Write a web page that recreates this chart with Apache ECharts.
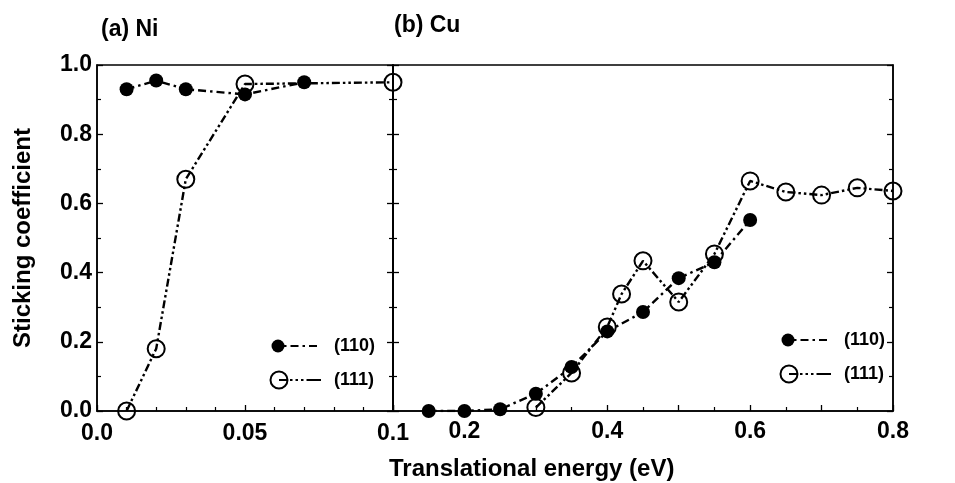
<!DOCTYPE html>
<html>
<head>
<meta charset="utf-8">
<script src="https://cdn.jsdelivr.net/npm/echarts@6/dist/echarts.min.js"></script>
<style>
  html, body { margin: 0; padding: 0; background: #fff; }
  #chart { width: 955px; height: 483px; }
</style>
</head>
<body>
<div id="chart"></div>
<script>
// ---- data ----
var panelTitles = ['(a) Ni', '(b) Cu'];
var seriesNames = ['(110)', '(111)'];
var yTitle = 'Sticking coefficient';
var xTitle = 'Translational energy (eV)';

// (a) Ni
var niX110 = [0.01, 0.02, 0.03, 0.05, 0.07];
var niY110 = [0.93, 0.955, 0.93, 0.915, 0.95];
var niX111 = [0.01, 0.02, 0.03, 0.05, 0.1];
var niY111 = [0.0, 0.18, 0.67, 0.945, 0.95];

// (b) Cu
var cuX110 = [0.15, 0.2, 0.25, 0.3, 0.35, 0.4, 0.45, 0.5, 0.55, 0.6];
var cuY110 = [0.0, 0.0, 0.005, 0.05, 0.127, 0.23, 0.286, 0.384, 0.43, 0.552];
var cuX111 = [0.3, 0.35, 0.4, 0.42, 0.45, 0.5, 0.55, 0.6, 0.65, 0.7, 0.75, 0.8];
var cuY111 = [0.01, 0.11, 0.243, 0.338, 0.434, 0.315, 0.454, 0.665, 0.633, 0.624, 0.645, 0.636];

// tick labels
var niXTickLabels = { '0': '0.0', '0.05': '0.05', '0.1': '0.1' };
var cuXTickLabels = ['0.2', '0.4', '0.6', '0.8'];

function pairs(xs, ys) { return xs.map(function (x, i) { return [x, ys[i]]; }); }

var FONT = 'Liberation Sans, Arial, Helvetica, sans-serif';
var DASH_110 = [8, 4, 2.5, 4];
var DASH_111 = [8, 3, 2.5, 3, 2.5, 3];

var chart = echarts.init(document.getElementById('chart'), null, { renderer: 'canvas' });

var labelStyle = { color: '#000', fontFamily: FONT, fontWeight: 'bold', fontSize: 23 };

function yAxisDef(gridIndex, position, showLabels, extra) {
  var a = {
    type: 'value', gridIndex: gridIndex, position: position,
    min: 0, max: 1.0, interval: 0.2,
    axisLine: { show: true, onZero: false, lineStyle: { color: '#000', width: 1.5 } },
    axisTick: { show: true, inside: true, length: 6, lineStyle: { color: '#000', width: 1.3 } },
    minorTick: { show: true, splitNumber: 2, length: 4, lineStyle: { color: '#000', width: 1.2 } },
    splitLine: { show: false },
    axisLabel: showLabels ? Object.assign({ margin: 5, formatter: function (v) { return v.toFixed(1); } }, labelStyle) : { show: false }
  };
  return Object.assign(a, extra || {});
}

var option = {
  animation: false,
  backgroundColor: '#fff',
  title: [
    { text: panelTitles[0], left: 96, top: 13, textStyle: { color: '#000', fontFamily: FONT, fontWeight: 'bold', fontSize: 23 } },
    { text: panelTitles[1], left: 389, top: 9, textStyle: { color: '#000', fontFamily: FONT, fontWeight: 'bold', fontSize: 23 } }
  ],
  grid: [
    { left: 97, top: 65, width: 296, height: 346, show: true, borderColor: '#000', borderWidth: 1.5, backgroundColor: 'transparent' },
    { left: 393, top: 65, width: 500, height: 346, show: true, borderColor: '#000', borderWidth: 1.5, backgroundColor: 'transparent' }
  ],
  xAxis: [
    {
      type: 'value', gridIndex: 0, min: 0, max: 0.1, interval: 0.05,
      axisLine: { show: true, onZero: false, lineStyle: { color: '#000', width: 1.5 } },
      axisTick: { show: true, inside: true, length: 6, lineStyle: { color: '#000', width: 1.3 } },
      minorTick: { show: true, splitNumber: 5, length: 4, lineStyle: { color: '#000', width: 1.2 } },
      splitLine: { show: false },
      axisLabel: Object.assign({ margin: 11, showMinLabel: true, showMaxLabel: true,
        formatter: function (v) { var k = String(+v.toFixed(3)); return niXTickLabels[k] !== undefined ? niXTickLabels[k] : ''; } }, labelStyle)
    },
    {
      type: 'value', gridIndex: 1, min: 0.1, max: 0.8, interval: 0.1,
      axisLine: { show: true, onZero: false, lineStyle: { color: '#000', width: 1.5 } },
      axisTick: { show: true, inside: true, length: 6, lineStyle: { color: '#000', width: 1.3 } },
      minorTick: { show: true, splitNumber: 2, length: 4, lineStyle: { color: '#000', width: 1.2 } },
      splitLine: { show: false },
      axisLabel: Object.assign({ margin: 9, showMinLabel: true, showMaxLabel: true,
        formatter: function (v) { var s = v.toFixed(1); return cuXTickLabels.indexOf(s) >= 0 ? s : ''; } }, labelStyle)
    }
  ],
  yAxis: [
    yAxisDef(0, 'left', true, {
      name: yTitle, nameLocation: 'middle', nameGap: 62, nameRotate: 90,
      nameTextStyle: { color: '#000', fontFamily: FONT, fontWeight: 'bold', fontSize: 24 }
    }),
    yAxisDef(0, 'right', false),
    yAxisDef(1, 'left', false),
    yAxisDef(1, 'right', false)
  ],
  series: [
    {
      name: seriesNames[0], type: 'line', xAxisIndex: 0, yAxisIndex: 0,
      data: pairs(niX110, niY110),
      symbol: 'circle', symbolSize: 14,
      itemStyle: { color: '#000' },
      lineStyle: { color: '#000', width: 2.4, type: DASH_110 },
      emphasis: { disabled: true }, z: 3
    },
    {
      name: seriesNames[1], type: 'line', xAxisIndex: 0, yAxisIndex: 0,
      data: pairs(niX111, niY111),
      symbol: 'circle', symbolSize: 17,
      itemStyle: { color: 'rgba(0,0,0,0)', borderColor: '#000', borderWidth: 2 },
      lineStyle: { color: '#000', width: 2.4, type: DASH_111 },
      emphasis: { disabled: true }, z: 4
    },
    {
      name: seriesNames[0], type: 'line', xAxisIndex: 1, yAxisIndex: 2,
      data: pairs(cuX110, cuY110),
      symbol: 'circle', symbolSize: 14,
      itemStyle: { color: '#000' },
      lineStyle: { color: '#000', width: 2.4, type: DASH_110 },
      emphasis: { disabled: true }, z: 3
    },
    {
      name: seriesNames[1], type: 'line', xAxisIndex: 1, yAxisIndex: 2,
      data: pairs(cuX111, cuY111),
      symbol: 'circle', symbolSize: 17,
      itemStyle: { color: 'rgba(0,0,0,0)', borderColor: '#000', borderWidth: 2 },
      lineStyle: { color: '#000', width: 2.4, type: DASH_111 },
      emphasis: { disabled: true }, z: 4
    }
  ],
  graphic: []
};

// legends (one inside each panel)
function legendGroup(x, y) {
  return {
    type: 'group', left: x, top: y, children: [
      { type: 'circle', shape: { cx: 8, cy: 8, r: 6.5 }, style: { fill: '#000' } },
      { type: 'line', shape: { x1: 14, y1: 8, x2: 51, y2: 8 }, style: { stroke: '#000', lineWidth: 2.2, lineDash: [2.5, 4, 8, 4] } },
      { type: 'text', x: 64, y: 8, style: { text: seriesNames[0], fill: '#000', font: 'bold 18px ' + FONT, textVerticalAlign: 'middle', verticalAlign: 'middle' } },
      { type: 'circle', shape: { cx: 9, cy: 42, r: 8.5 }, style: { fill: 'none', stroke: '#000', lineWidth: 2 } },
      { type: 'line', shape: { x1: 9, y1: 42, x2: 17, y2: 42 }, style: { stroke: '#000', lineWidth: 2 } },
      { type: 'line', shape: { x1: 20, y1: 42, x2: 51, y2: 42 }, style: { stroke: '#000', lineWidth: 2.2, lineDash: [2.5, 3, 2.5, 3, 2.5, 3, 12, 0] } },
      { type: 'text', x: 64, y: 42, style: { text: seriesNames[1], fill: '#000', font: 'bold 18px ' + FONT, textVerticalAlign: 'middle', verticalAlign: 'middle' } }
    ]
  };
}
option.graphic.push(legendGroup(268, 337));
option.graphic.push(legendGroup(778, 331));
option.graphic.push({
  type: 'text', left: 389, top: 457,
  style: { text: xTitle, fill: '#000', font: 'bold 24px ' + FONT }
});

chart.setOption(option);
</script>
</body>
</html>
